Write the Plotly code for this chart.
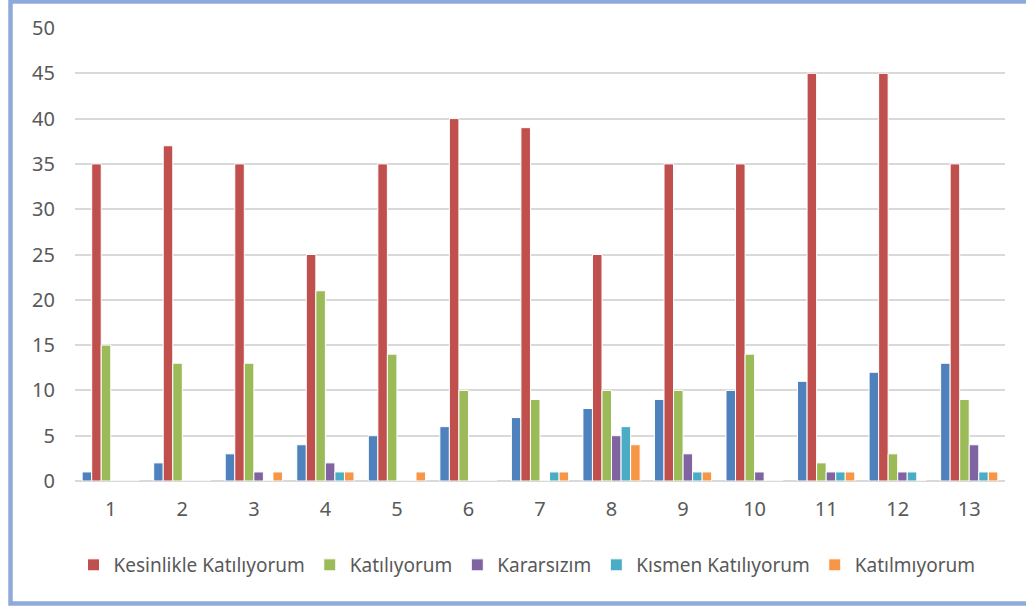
import plotly.graph_objects as go

categories = [str(i) for i in range(1, 13 + 1)]
item_no = [1, 2, 3, 4, 5, 6, 7, 8, 9, 10, 11, 12, 13]
kesinlikle = [35, 37, 35, 25, 35, 40, 39, 25, 35, 35, 45, 45, 35]
katiliyorum = [15, 13, 13, 21, 14, 10, 9, 10, 10, 14, 2, 3, 9]
kararsizim = [0, 0, 1, 2, 0, 0, 0, 5, 3, 1, 1, 1, 4]
kismen = [0, 0, 0, 1, 0, 0, 1, 6, 1, 0, 1, 1, 1]
katilmiyorum = [0, 0, 1, 1, 1, 0, 1, 4, 1, 0, 1, 0, 1]

series = [
    ("", item_no, "#4F81BD", False),
    ("Kesinlikle Katılıyorum", kesinlikle, "#C0504D", True),
    ("Katılıyorum", katiliyorum, "#9BBB59", True),
    ("Kararsızım", kararsizim, "#8064A2", True),
    ("Kısmen Katılıyorum", kismen, "#4BACC6", True),
    ("Katılmıyorum", katilmiyorum, "#F79646", True),
]

fig = go.Figure()
for name, vals, color, show in series:
    fig.add_trace(go.Bar(
        x=categories, y=vals, name=name, showlegend=show,
        marker=dict(color=color, line=dict(color="white", width=1)),
    ))

W, H = 1026, 606
ml, mr, mt, mb = 75, 21, 28, 125
pw = W - ml - mr
ph = H - mt - mb

def px_x(p):
    return (p - ml) / pw

def px_y(p):
    return (H - mb - p) / ph

fig.update_layout(
    width=W, height=H,
    margin=dict(l=ml, r=mr, t=mt, b=mb),
    paper_bgcolor="white", plot_bgcolor="white",
    barmode="group", bargap=0.2, bargroupgap=0,
    font=dict(family="Noto Sans, Open Sans, sans-serif", size=20, color="#595959"),
    xaxis=dict(type="category", showgrid=False, showline=False, ticks="",
               ticklabelstandoff=14,
               tickfont=dict(size=20, color="#595959")),
    yaxis=dict(range=[0, 50], dtick=5, showgrid=True, gridcolor="#D9D9D9",
               gridwidth=1.5, zeroline=True, zerolinecolor="#D9D9D9", zerolinewidth=1.5,
               showline=False, ticks="", ticklabelstandoff=19,
               tickfont=dict(size=20, color="#595959")),
    legend=dict(orientation="h", x=px_x(527), xanchor="center", y=px_y(565), yanchor="middle",
                font=dict(size=19, color="#595959"), itemwidth=30,
                traceorder="normal"),
    shapes=[dict(type="rect", xref="paper", yref="paper",
                 x0=px_x(10.5), x1=px_x(1070),
                 y0=px_y(603.5), y1=px_y(1.5),
                 line=dict(color="#8EAADB", width=4.5), layer="above")],
)

fig.write_html("out.html", config={"displayModeBar": False},
               post_script="document.body.style.margin='0px';")
